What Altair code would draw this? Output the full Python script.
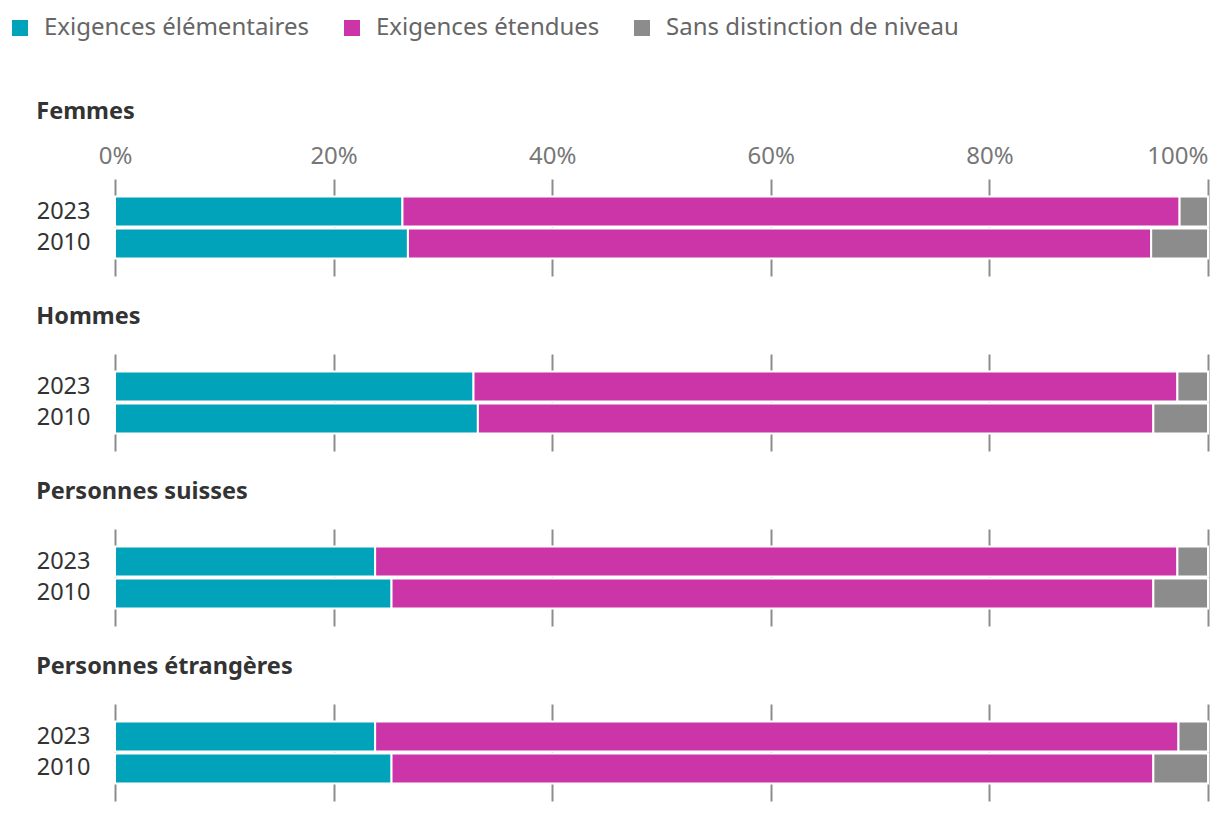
import altair as alt
import pandas as pd

groups = ["Femmes", "Hommes", "Personnes suisses", "Personnes étrangères"]
years = ["2023", "2010"]
categories = ["Exigences élémentaires", "Exigences étendues", "Sans distinction de niveau"]
colors = ["#00a3b9", "#cc35a8", "#8c8c8c"]

# values per group: [2023 values, 2010 values], in category order
values = {
    "Femmes": [[26.3, 71.1, 2.6], [26.8, 68.0, 5.2]],
    "Hommes": [[32.8, 64.4, 2.8], [33.2, 61.8, 5.0]],
    "Personnes suisses": [[23.8, 73.4, 2.8], [25.3, 69.7, 5.0]],
    "Personnes étrangères": [[23.8, 73.5, 2.7], [25.3, 69.7, 5.0]],
}

rows = []
for g in groups:
    for yi, y in enumerate(years):
        for ci, c in enumerate(categories):
            rows.append({"group": g, "year": y, "cat": c, "order": ci,
                         "value": values[g][yi][ci] / 100})
df = pd.DataFrame(rows)

FONT = "Noto Sans"

def panel(g, first):
    base = alt.Chart(df[df.group == g]).mark_bar(stroke="white", strokeWidth=2).encode(
        x=alt.X("value:Q", stack="zero",
                scale=alt.Scale(domain=[0, 1], nice=False),
                axis=alt.Axis(orient="top", format=".0%", values=[0, 0.2, 0.4, 0.6, 0.8, 1.0],
                              title=None, domain=False, ticks=False, labels=first,
                              labelFontSize=24, labelColor="#777", labelPadding=11,
                              labelFont=FONT, grid=True, gridColor="#8c8c8c", gridWidth=2,
                              labelFlush=False,
                              labelAlign=alt.expr("datum.value == 1 ? 'right' : 'center'"))),
        y=alt.Y("year:N", sort=years, title=None,
                scale=alt.Scale(paddingInner=0.0625, paddingOuter=0.55),
                axis=alt.Axis(domain=False, ticks=False, labelFontSize=23.5, labelColor="#333",
                              labelPadding=25, labelFont=FONT, grid=False)),
        color=alt.Color("cat:N", scale=alt.Scale(domain=categories, range=colors),
                        legend=alt.Legend(title=None, orient="none", legendX=-107, legendY=-163,
                                          direction="horizontal",
                                          labelFontSize=24, labelColor="#666", labelFont=FONT,
                                          labelLimit=400,
                                          symbolType="square", symbolSize=256,
                                          symbolStrokeWidth=0, columnPadding=30,
                                          labelOffset=12)),
        order=alt.Order("order:Q"),
    ).properties(
        width=1093, height=97,
        title=alt.TitleParams(g, anchor="start", fontSize=23.5, fontWeight="bold",
                              color="#333", font=FONT, offset=21 if first else 26),
    )
    return base

chart = alt.vconcat(*[panel(g, i == 0) for i, g in enumerate(groups)], spacing=28).configure_view(
    stroke=None
).configure_concat(spacing=28).properties(
    padding={"left": 0, "top": 8, "right": 2, "bottom": 2})

chart.save("out.html", embed_options={"renderer": "svg", "actions": False})
